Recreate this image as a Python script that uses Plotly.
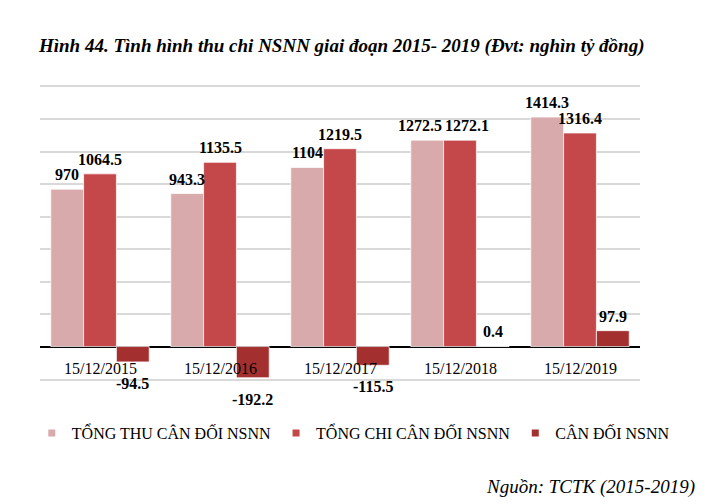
import plotly.graph_objects as go

categories = ["15/12/2015", "15/12/2016", "15/12/2017", "15/12/2018", "15/12/2019"]
tong_thu = [970, 943.3, 1104, 1272.5, 1414.3]
tong_chi = [1064.5, 1135.5, 1219.5, 1272.1, 1316.4]
can_doi = [-94.5, -192.2, -115.5, 0.4, 97.9]
series_names = ["TỔNG THU CÂN ĐỐI NSNN", "TỔNG CHI CÂN ĐỐI NSNN", "CÂN ĐỐI NSNN"]
colors = ["#D9AAAB", "#C4474A", "#A3302F"]

SERIF = "Liberation Serif, Times New Roman, serif"
GROUP = 0.82              # share of each category taken by the bar group
BW = GROUP / 3            # single bar width (category units)

# small horizontal nudges for the labels of 15/12/2018 so they don't collide
label_nudge = {(0, 3): -7, (1, 3): 7}

fig = go.Figure()
all_series = [tong_thu, tong_chi, can_doi]
for k, (name, vals, col) in enumerate(zip(series_names, all_series, colors)):
    off = -GROUP / 2 + k * BW
    fig.add_trace(go.Bar(
        x=categories, y=vals, name=name,
        width=BW, offset=off,
        marker=dict(color=col, line=dict(color="rgba(255,255,255,0.7)", width=1)),
        showlegend=False, hoverinfo="x+y",
    ))
    fig.add_trace(go.Scatter(
        x=[None], y=[None], mode="markers", name=name,
        marker=dict(symbol="square", size=7, color=col), showlegend=True,
    ))
    for i, v in enumerate(vals):
        pos = v >= 0
        fig.add_annotation(
            x=i + off + BW / 2, y=v, xref="x", yref="y",
            text=f"<b>{v:g}</b>", showarrow=False,
            yanchor="bottom" if pos else "top",
            yshift=4 if pos else -11,
            xshift=label_nudge.get((k, i), 0),
            font=dict(family=SERIF, size=16, color="black"),
        )

for c in categories:
    fig.add_annotation(x=c, y=0, yref="y", text=c, showarrow=False,
                       yanchor="top", yshift=-11,
                       font=dict(family=SERIF, size=16, color="black"))

fig.add_annotation(xref="paper", yref="paper", x=1.095, y=-0.37,
                   xanchor="right", yanchor="middle", showarrow=False,
                   text="<i>Nguồn: TCTK (2015-2019)</i>",
                   font=dict(family=SERIF, size=19, color="black"))

fig.update_layout(
    width=712, height=504,
    margin=dict(l=40, r=72, t=87, b=125, autoexpand=False),
    paper_bgcolor="white", plot_bgcolor="white",
    barmode="overlay",
    title=dict(text="<b><i>Hình 44. Tình hình thu chi NSNN giai đoạn 2015- 2019 (Đvt: nghìn tỷ đồng)</i></b>",
               x=0.48, xanchor="center", y=0.911, yanchor="middle", yref="container",
               font=dict(family=SERIF, size=19, color="black")),
    legend=dict(orientation="h", x=1.058, xanchor="right",
                y=-0.185, yanchor="middle",
                font=dict(family=SERIF, size=16, color="black"),
                itemwidth=30, tracegroupgap=0),
    showlegend=True,
)
fig.update_xaxes(showticklabels=False, showgrid=False, ticks="",
                 showline=True, mirror=True, linecolor="#D9D9D9", linewidth=1.5,
                 range=[-0.5, len(categories) - 0.5])
fig.update_yaxes(range=[-200, 1600], tickvals=list(range(-200, 1601, 200)),
                 showticklabels=False,
                 showgrid=True, gridcolor="#D9D9D9", gridwidth=1.5,
                 zeroline=True, zerolinecolor="black", zerolinewidth=2, ticks="")

fig.write_html("out.html", config={"displayModeBar": False},
               post_script="document.body.style.margin='0';document.body.style.overflow='hidden';")
